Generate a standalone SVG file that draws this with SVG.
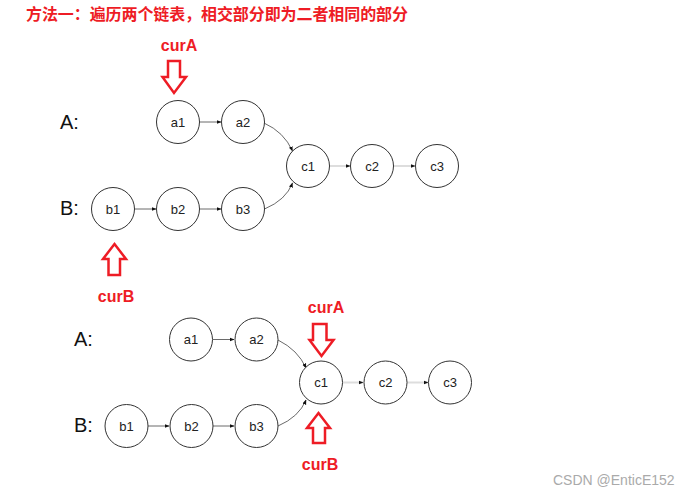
<svg xmlns="http://www.w3.org/2000/svg" width="687" height="494" viewBox="0 0 687 494">
<style>
.node circle{fill:#fff;stroke:#333;stroke-width:1}
.node text{font-family:"Liberation Sans",Arial,sans-serif;font-size:13px;fill:#222;text-anchor:middle;dominant-baseline:central}
.lbl{font-family:"Liberation Sans",Arial,sans-serif;font-size:20px;fill:#111;dominant-baseline:central}
.red{font-family:"Liberation Sans","Noto Sans CJK SC",sans-serif;font-weight:bold;font-size:16px;fill:#ee1c25}
.ptr{fill:none;stroke:#ee1c25;stroke-width:2.5;stroke-linejoin:miter}
.e{fill:none;stroke:#444;stroke-width:0.8;marker-end:url(#ah)}
.g{fill:none;stroke:#ddd;stroke-width:2;marker-end:url(#ah)}
</style>
<defs>
<marker id="ah" viewBox="0 0 10 10" refX="9" refY="5" markerWidth="5" markerHeight="5" markerUnits="userSpaceOnUse" orient="auto">
<path d="M0,1 L10,5 L0,9 z" fill="#111"/>
</marker>
</defs>
<rect width="687" height="494" fill="#fff"/>
<text class="red" x="26" y="20" textLength="382">方法一：遍历两个链表，相交部分即为二者相同的部分</text>

<!-- top diagram -->
<text class="lbl" x="60" y="122">A:</text>
<text class="lbl" x="60" y="208">B:</text>
<g id="connectors-top">
<path class="e" d="M200,122 L221,122"/>
<path class="e" d="M264,123 Q284,132 292.5,151"/>
<path class="e" d="M135,209 L156,209"/>
<path class="e" d="M200,209 L221,209"/>
<path class="e" d="M264.5,209 Q286,200 292.5,183"/>
<path class="g" d="M330,166 L350,166"/>
<path class="g" d="M394,166 L415,166"/>
</g>
<g id="top-a1" class="node"><circle cx="178" cy="122" r="21.5"/><text x="178" y="122">a1</text></g>
<g id="top-a2" class="node"><circle cx="243" cy="122" r="21.5"/><text x="243" y="122">a2</text></g>
<g id="top-b1" class="node"><circle cx="113" cy="209" r="21.5"/><text x="113" y="209">b1</text></g>
<g id="top-b2" class="node"><circle cx="178" cy="209" r="21.5"/><text x="178" y="209">b2</text></g>
<g id="top-b3" class="node"><circle cx="243" cy="209" r="21.5"/><text x="243" y="209">b3</text></g>
<g id="top-c1" class="node"><circle cx="308" cy="166" r="21.5"/><text x="308" y="166">c1</text></g>
<g id="top-c2" class="node"><circle cx="372" cy="166" r="21.5"/><text x="372" y="166">c2</text></g>
<g id="top-c3" class="node"><circle cx="437" cy="166" r="21.5"/><text x="437" y="166">c3</text></g>
<g id="top-curA">
<text class="red" x="179" y="51" text-anchor="middle">curA</text>
<polygon class="ptr" points="168,61 180,61 180,77 186,77 174,93 162.5,77 168,77"/>
</g>
<g id="top-curB">
<polygon class="ptr" points="108.5,275 120,275 120,259 126,259 114.5,244 103,259 108.5,259"/>
<text class="red" x="116" y="302" text-anchor="middle">curB</text>
</g>

<!-- bottom diagram -->
<text class="lbl" x="74" y="339">A:</text>
<text class="lbl" x="74" y="425">B:</text>
<g id="connectors-bottom">
<path class="e" d="M213,339.5 L234,339.5"/>
<path class="e" d="M278,340 Q298,350 306,368"/>
<path class="e" d="M148,426 L169,426"/>
<path class="e" d="M213,426 L234,426"/>
<path class="e" d="M278,426 Q299,417 306,400"/>
<path class="g" d="M343,382.5 L363,382.5"/>
<path class="g" d="M407,382.5 L428,382.5"/>
</g>
<g id="bot-a1" class="node"><circle cx="191" cy="339.5" r="21.5"/><text x="191" y="339.5">a1</text></g>
<g id="bot-a2" class="node"><circle cx="256.5" cy="339.5" r="21.5"/><text x="256.5" y="339.5">a2</text></g>
<g id="bot-b1" class="node"><circle cx="126.5" cy="426" r="21.5"/><text x="126.5" y="426">b1</text></g>
<g id="bot-b2" class="node"><circle cx="191.5" cy="426" r="21.5"/><text x="191.5" y="426">b2</text></g>
<g id="bot-b3" class="node"><circle cx="256.5" cy="426" r="21.5"/><text x="256.5" y="426">b3</text></g>
<g id="bot-c1" class="node"><circle cx="321" cy="382.5" r="21.5"/><text x="321" y="382.5">c1</text></g>
<g id="bot-c2" class="node"><circle cx="385.5" cy="382.5" r="21.5"/><text x="385.5" y="382.5">c2</text></g>
<g id="bot-c3" class="node"><circle cx="450" cy="382.5" r="21.5"/><text x="450" y="382.5">c3</text></g>
<g id="bot-curA">
<text class="red" x="326" y="313" text-anchor="middle">curA</text>
<polygon class="ptr" points="313,324 326.5,324 326.5,340 333.5,340 321.5,356 309.5,340 313,340"/>
</g>
<g id="bot-curB">
<polygon class="ptr" points="313,443 325,443 325,428 330,428 318.5,413 307,428 313,428"/>
<text class="red" x="320" y="470" text-anchor="middle">curB</text>
</g>

<text x="553" y="485" font-family="Liberation Sans,Arial,sans-serif" font-size="14" fill="#aaa">CSDN @EnticE152</text>
</svg>
